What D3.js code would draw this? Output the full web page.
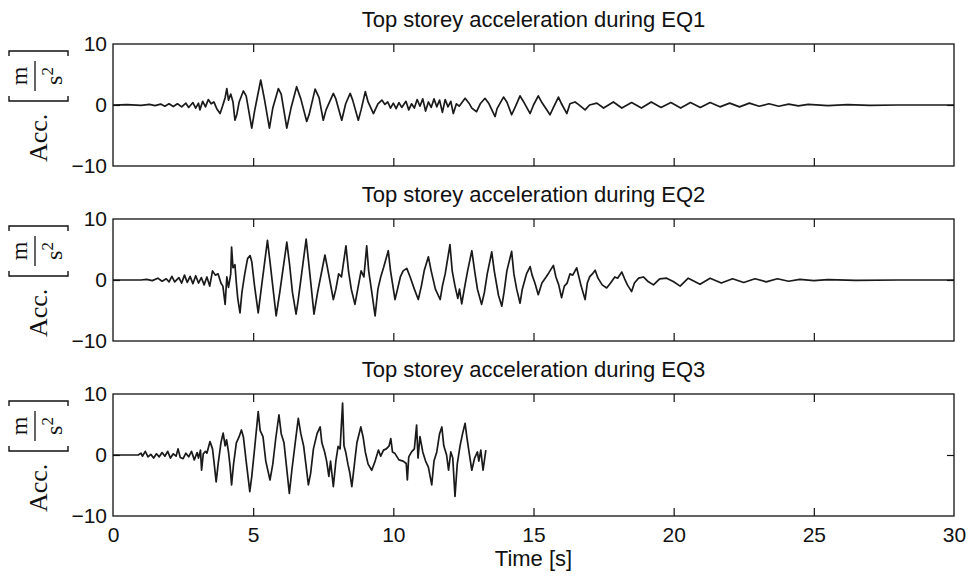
<!DOCTYPE html>
<html>
<head>
<meta charset="utf-8">
<script src="https://cdn.jsdelivr.net/npm/d3@7"></script>
<style>
  html, body { margin: 0; padding: 0; background: #fff; }
  svg { display: block; }
  .ttl { font-family: "Liberation Sans", Arial, Helvetica, sans-serif; font-size: 22px; fill: #111; }
  .ylab { font-family: "Liberation Serif", "Times New Roman", serif; fill: #111; }
</style>
</head>
<body>
<svg id="chart" width="968" height="577"></svg>
<script>
// Time axis and acceleration axis ticks
const xTicks = [0, 5, 10, 15, 20, 25, 30];
const yTicks = [-10, 0, 10];
const titles = [
  "Top storey acceleration during EQ1",
  "Top storey acceleration during EQ2",
  "Top storey acceleration during EQ3"
];
const xLabel = "Time [s]";

// Acceleration records: [time s, acceleration m/s^2]
const eq1 = [
  [0,0],[0.5,0.05],[1.0,-0.05],[1.3,0.1],[1.5,-0.1],[1.7,0.15],[1.85,-0.2],[2.0,0.2],[2.15,-0.25],[2.3,0.2],
  [2.45,-0.3],[2.6,0.3],[2.7,-0.4],[2.85,0.4],[2.95,-0.5],[3.05,0.3],[3.1,-0.8],[3.2,0.6],[3.3,-0.3],[3.4,0.9],
  [3.5,0.2],[3.6,0.5],[3.7,-0.6],[3.82,-1.4],[3.9,-0.3],[4.0,1.2],[4.06,2.7],[4.12,0.8],[4.2,1.8],[4.28,0.5],
  [4.35,-2.5],[4.42,-1.5],[4.5,0.5],[4.65,2.3],[4.75,1.5],[4.95,-3.8],[5.05,-1.0],[5.27,4.1],[5.4,1.0],[5.58,-3.8],
  [5.7,-0.5],[5.9,2.7],[6.0,1.8],[6.2,-3.8],[6.35,-0.5],[6.55,3.0],[6.7,1.0],[6.91,-2.7],[7.0,-1.5],[7.21,2.6],
  [7.35,1.2],[7.5,-2.5],[7.6,-0.8],[7.86,1.9],[7.95,1.0],[8.16,-2.5],[8.3,0.2],[8.46,1.9],[8.55,0.8],[8.75,-2.5],
  [8.85,-0.8],[9.0,2.2],[9.1,0.5],[9.29,-1.4],[9.45,0.2],[9.59,0.8],[9.7,0.1],[9.8,0.5],[9.9,-0.5],[10.0,0.3],
  [10.1,-0.6],[10.2,0.4],[10.3,-0.4],[10.45,0.6],[10.55,-0.8],[10.65,0.2],[10.75,-0.5],[10.85,0.9],[10.95,-0.2],[11.05,1.0],
  [11.15,-1.0],[11.25,0.5],[11.35,-0.4],[11.45,1.0],[11.55,-0.3],[11.65,0.8],[11.75,-1.2],[11.85,0.9],[11.95,-0.3],[12.05,0.6],
  [12.14,-1.4],[12.25,0.2],[12.35,-0.2],[12.56,1.1],[12.7,0.3],[12.8,-0.5],[12.97,-1.1],[13.1,0.2],[13.27,1.1],[13.4,0.3],
  [13.63,-1.9],[13.7,-0.6],[13.93,1.3],[14.05,0.5],[14.22,-1.6],[14.35,-0.3],[14.52,1.5],[14.65,0.5],[14.88,-1.4],[15.0,0],
  [15.17,1.5],[15.3,0.4],[15.59,-1.6],[15.7,-0.5],[15.89,1.3],[16.0,0.2],[16.19,-1.4],[16.3,0.2],[16.48,0.5],[16.6,0.1],
  [16.84,-0.8],[17.0,0.0],[17.26,0.3],[17.5,-0.5],[17.85,0.5],[18.15,-0.5],[18.5,0.4],[18.85,-0.5],[19.2,0.5],[19.55,-0.4],
  [19.9,0.4],[20.25,-0.5],[20.6,0.4],[20.95,-0.4],[21.3,0.4],[21.65,-0.3],[22.0,0.3],[22.35,-0.3],[22.7,0.3],[23.05,-0.2],
  [23.4,0.2],[23.75,-0.2],[24.1,0.15],[24.45,-0.15],[24.8,0.1],[25.5,-0.1],[26.2,0.05],[27,-0.05],[28,0],[30,0]
];

const eq2 = [
  [0,0],[1.0,0],[1.2,0.1],[1.4,-0.1],[1.6,0.3],[1.75,-0.2],[1.9,0.2],[2.0,-0.3],[2.1,0.6],[2.2,-0.3],
  [2.35,0.4],[2.45,-0.5],[2.55,0.8],[2.65,-0.4],[2.75,0.6],[2.85,-0.6],[2.95,0.7],[3.05,-0.5],[3.15,0.4],[3.25,-0.8],
  [3.35,0.5],[3.45,-1.0],[3.55,1.5],[3.65,0.8],[3.75,1.0],[3.85,-0.5],[3.92,-1.0],[4.0,-4.0],[4.06,0.5],[4.12,-1.2],
  [4.2,1.0],[4.23,5.4],[4.28,2.0],[4.35,2.5],[4.4,-0.5],[4.45,-3.0],[4.53,-5.4],[4.6,-2.0],[4.7,1.0],[4.8,3.5],
  [4.89,4.0],[4.95,3.0],[5.05,-1.0],[5.18,-5.4],[5.3,-1.0],[5.51,6.5],[5.6,3.0],[5.82,-5.9],[5.95,-2.0],[6.2,6.2],
  [6.3,2.5],[6.4,-2.0],[6.53,-5.6],[6.6,-3.5],[6.89,6.7],[7.0,2.0],[7.17,-5.6],[7.3,-2.0],[7.56,4.1],[7.65,2.0],
  [7.86,-3.2],[7.95,-1.5],[8.05,1.0],[8.15,0.5],[8.31,5.6],[8.4,1.5],[8.5,-1.5],[8.63,-4.0],[8.75,-1.0],[8.85,1.5],
  [8.95,0.5],[9.05,5.6],[9.12,1.5],[9.2,-1.0],[9.35,-5.9],[9.45,-1.5],[9.55,0.5],[9.65,2.0],[9.82,4.8],[9.9,1.5],
  [10.06,-3.2],[10.15,-1.5],[10.25,0.5],[10.35,1.5],[10.48,1.9],[10.6,0.5],[10.75,-1.5],[10.89,-3.2],[11.0,-1.0],[11.1,1.5],
  [11.25,3.8],[11.35,1.5],[11.5,-1.5],[11.67,-3.2],[11.75,-1.0],[11.85,1.0],[12.02,5.8],[12.1,1.5],[12.2,-1.0],[12.3,-3.0],
  [12.36,-1.5],[12.44,-3.9],[12.55,-1.0],[12.65,1.5],[12.8,4.8],[12.9,1.5],[13.0,-1.5],[13.15,-4.0],[13.25,-2.0],[13.35,1.0],
  [13.51,4.6],[13.6,1.5],[13.75,-2.5],[13.87,-4.3],[13.95,-2.0],[14.05,1.5],[14.22,4.7],[14.3,1.0],[14.4,-1.5],[14.52,-3.8],
  [14.6,-1.5],[14.75,1.0],[14.88,2.2],[14.95,0.8],[15.05,-0.5],[15.17,-2.4],[15.3,-0.5],[15.45,0.5],[15.55,1.2],[15.71,2.4],
  [15.8,0.5],[15.9,-0.8],[16.0,-2.9],[16.1,-1.0],[16.2,-0.5],[16.3,1.0],[16.4,0.8],[16.54,2.0],[16.62,0.5],[16.7,-1.0],
  [16.84,-3.2],[16.92,-0.5],[17.0,0.5],[17.1,1.0],[17.2,1.6],[17.3,0.3],[17.45,-0.8],[17.61,-1.3],[17.75,-0.5],[17.9,0.5],
  [18.0,0.3],[18.15,1.3],[18.25,0.2],[18.35,-0.8],[18.5,-1.9],[18.6,-0.5],[18.75,0.3],[18.92,0.5],[19.1,-0.3],[19.28,-0.8],
  [19.5,0.2],[19.75,0.3],[20.0,-0.3],[20.23,-1.0],[20.52,0.3],[20.94,-0.7],[21.3,0.3],[21.7,-0.5],[22.1,0.2],[22.5,-0.4],
  [22.9,0.2],[23.3,-0.3],[23.7,0.2],[24.1,-0.2],[24.5,0.1],[25,-0.1],[25.5,0.05],[26.5,-0.05],[28,0],[30,0]
];

const eq3 = [
  [0,0],[0.9,0],[1.0,0.3],[1.05,-0.2],[1.15,0.6],[1.25,-0.3],[1.35,0.1],[1.45,-0.5],[1.55,0.2],[1.65,-0.3],
  [1.75,0.4],[1.85,-0.2],[1.95,0.6],[2.05,-0.5],[2.15,0.2],[2.25,-0.2],[2.32,1.0],[2.4,-0.4],[2.5,-0.6],[2.6,0.3],
  [2.7,-0.3],[2.8,0.6],[2.9,-0.8],[3.0,0.4],[3.05,-0.5],[3.12,0.8],[3.16,-2.5],[3.22,0.2],[3.3,0.6],[3.35,0.3],
  [3.46,2.2],[3.55,1.0],[3.6,-1.0],[3.68,-4.4],[3.75,-1.5],[3.85,2.0],[3.93,3.6],[4.0,1.5],[4.05,2.5],[4.12,0.5],
  [4.18,-2.0],[4.23,-4.9],[4.3,-1.5],[4.4,2.0],[4.5,3.0],[4.58,4.1],[4.65,3.0],[4.75,-1.0],[4.88,-6.0],[4.95,-3.5],
  [5.05,1.0],[5.18,7.1],[5.25,4.0],[5.35,3.0],[5.45,-1.0],[5.6,-4.1],[5.7,-1.5],[5.8,2.5],[5.92,6.6],[6.0,3.5],
  [6.1,2.0],[6.18,-1.5],[6.29,-6.3],[6.38,-2.5],[6.5,2.0],[6.61,6.0],[6.7,3.5],[6.8,1.5],[6.88,-1.5],[6.97,-4.9],
  [7.05,-3.0],[7.15,1.0],[7.28,3.5],[7.39,4.6],[7.45,2.0],[7.55,0.5],[7.62,-1.0],[7.7,-3.5],[7.76,-1.0],[7.86,-5.2],
  [7.95,-1.0],[8.03,1.4],[8.1,1.0],[8.19,8.5],[8.24,1.5],[8.3,0.5],[8.38,-1.5],[8.45,-3.0],[8.52,-5.2],[8.6,-2.0],
  [8.7,2.0],[8.84,4.6],[8.92,3.0],[9.0,0.5],[9.1,-1.5],[9.23,-2.5],[9.35,-1.0],[9.47,0.8],[9.55,-0.2],[9.65,0.8],
  [9.75,1.0],[9.85,1.5],[9.91,2.7],[9.97,0.5],[10.05,0.3],[10.2,-0.8],[10.35,-1.0],[10.46,-1.4],[10.5,-4.1],[10.55,-0.3],
  [10.65,0.5],[10.75,1.0],[10.83,4.9],[10.88,-0.5],[10.95,3.0],[11.05,0.5],[11.15,-1.0],[11.25,-2.0],[11.37,-4.9],[11.45,-1.0],
  [11.55,0.5],[11.65,3.5],[11.73,4.6],[11.8,1.5],[11.9,0],[11.97,-2.5],[12.05,0.5],[12.12,-0.5],[12.2,-6.8],[12.28,-1.5],
  [12.38,1.5],[12.47,3.5],[12.56,5.2],[12.62,3.0],[12.7,0.5],[12.8,-2.5],[12.9,-0.5],[13.0,0.5],[13.05,-1.0],[13.12,0.8],
  [13.2,-2.5],[13.3,0.8]
];

const records = [eq1, eq2, eq3];

// Layout of the three stacked panels
const plotLeft = 113, plotRight = 954;
const panelTops = [44, 219, 394];
const panelH = 122;

const svg = d3.select("#chart");
const x = d3.scaleLinear().domain([0, 30]).range([plotLeft, plotRight]);

const sansFont = '"Liberation Sans", Arial, Helvetica, sans-serif';

function styleAxis(g) {
  g.attr("font-family", sansFont).attr("font-size", 21);
  g.select(".domain").remove();
  g.selectAll(".tick line").attr("stroke", "#111").attr("stroke-width", 1.2);
  g.selectAll(".tick text").attr("fill", "#111");
}

records.forEach((rec, i) => {
  const top = panelTops[i];
  const y = d3.scaleLinear().domain([-10, 10]).range([top + panelH, top]);
  const g = svg.append("g");

  // Panel title
  g.append("text").attr("class", "ttl")
    .attr("x", (plotLeft + plotRight) / 2).attr("y", top - 17)
    .attr("text-anchor", "middle").text(titles[i]);

  // Acceleration trace
  const line = d3.line().x(d => x(d[0])).y(d => y(d[1]));
  g.append("path").datum(rec)
    .attr("fill", "none").attr("stroke", "#1a1a1a")
    .attr("stroke-width", 1.7).attr("stroke-linejoin", "round")
    .attr("d", line);

  // Inward ticks on all four sides
  const inner = xTicks.filter(t => t > 0 && t < 30);
  const bottomAxis = d3.axisBottom(x).tickSize(-8).tickPadding(11);
  if (i === 2) bottomAxis.tickValues(xTicks).tickFormat(d3.format("d"));
  else bottomAxis.tickValues(inner).tickFormat("");
  g.append("g").attr("transform", `translate(0,${top + panelH})`).call(bottomAxis).call(styleAxis);
  if (i === 2) {
    g.selectAll(".tick").filter(d => d === 0 || d === 30).select("line").remove();
  }
  g.append("g").attr("transform", `translate(0,${top})`)
    .call(d3.axisTop(x).tickValues(inner).tickSize(-8).tickFormat(""))
    .call(styleAxis);

  g.append("g").attr("transform", `translate(${plotLeft},0)`)
    .call(d3.axisLeft(y).tickValues(yTicks).tickSize(-7).tickPadding(6)
      .tickFormat(d => d < 0 ? "\u2212" + Math.abs(d) : String(d)))
    .call(styleAxis)
    .call(a => a.selectAll(".tick").filter(d => d !== 0).select("line").remove());
  g.append("g").attr("transform", `translate(${plotRight},0)`)
    .call(d3.axisRight(y).tickValues([0]).tickSize(-7).tickFormat(""))
    .call(styleAxis);

  // Frame
  g.append("rect")
    .attr("x", plotLeft).attr("y", top)
    .attr("width", plotRight - plotLeft).attr("height", panelH)
    .attr("fill", "none").attr("stroke", "#111").attr("stroke-width", 1.3);

  // Y-axis label: Acc. [m / s^2], rotated
  const cy = y(0);
  const lab = g.append("g").attr("class", "ylab").attr("transform", "rotate(-90)");
  lab.append("text").attr("x", -(cy + 57)).attr("y", 47)
    .attr("font-size", 26).text("Acc.");
  const ob = -(cy - 4), cb = -(cy - 54), fc = -(cy - 29);
  lab.append("path").attr("d", `M${ob + 5},9 H${ob} V68 H${ob + 5}`)
    .attr("fill", "none").attr("stroke", "#111").attr("stroke-width", 1.4);
  lab.append("path").attr("d", `M${cb - 5},9 H${cb} V68 H${cb - 5}`)
    .attr("fill", "none").attr("stroke", "#111").attr("stroke-width", 1.4);
  lab.append("line").attr("x1", fc - 15).attr("x2", fc + 15).attr("y1", 35).attr("y2", 35)
    .attr("stroke", "#111").attr("stroke-width", 1.3);
  lab.append("text").attr("x", fc).attr("y", 27).attr("text-anchor", "middle")
    .attr("font-size", 24).text("m");
  const den = lab.append("text").attr("x", fc).attr("y", 62).attr("text-anchor", "middle")
    .attr("font-size", 24);
  den.append("tspan").text("s");
  den.append("tspan").attr("font-size", 17).attr("dy", -9).text("2");
});

// Shared time-axis label
svg.append("text").attr("class", "ttl")
  .attr("x", (plotLeft + plotRight) / 2).attr("y", 566)
  .attr("text-anchor", "middle").attr("font-size", 21).text(xLabel);
</script>
</body>
</html>
